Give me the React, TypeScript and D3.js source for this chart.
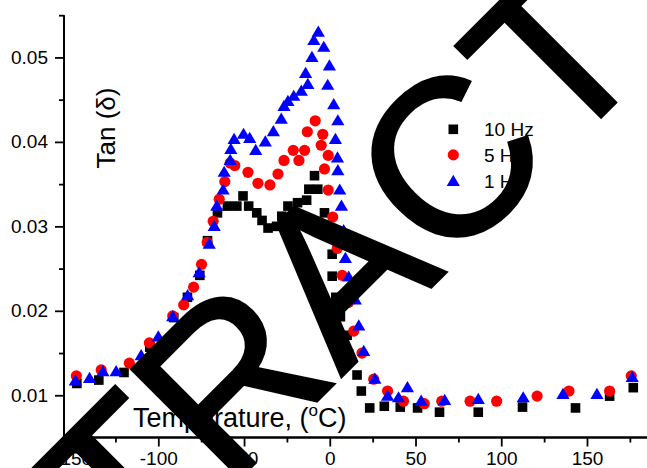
import React, { useEffect, useRef } from 'react';
import * as d3 from 'd3';

// temperature (°C) and tan(delta)
const temp10 = [-147.5, -134.7, -120, -105, -91, -83, -75.8, -71.3, -65.5, -59.7, -54.2, -50.6, -47.3, -42.6, -39.5, -36, -31, -28, -24.4, -18.8, -13.5, -12.2, -7, -8.9, -3.1, 1.4, 1.4, 3.5, 6.2, 10.1, 11, 15.9, 18.4, 23.3, 31.8, 41.1, 51.2, 64, 86.6, 112.4, 143.3, 163.2, 177];
const tan10 = [0.0114, 0.0118, 0.0127, 0.0157, 0.0192, 0.0216, 0.0242, 0.0283, 0.0316, 0.0324, 0.0324, 0.0336, 0.0324, 0.0316, 0.0307, 0.0298, 0.03, 0.0312, 0.0324, 0.0328, 0.0331, 0.0344, 0.0344, 0.036, 0.0316, 0.0267, 0.0241, 0.0216, 0.0193, 0.0171, 0.0149, 0.0124, 0.0105, 0.0085, 0.0087, 0.0086, 0.0085, 0.008, 0.008, 0.0086, 0.0085, 0.0099, 0.0109];

const temp5 = [-147.8, -133.3, -116.9, -105.2, -91.6, -85.2, -79.4, -74.8, -71.5, -68, -64.5, -61.2, -58.1, -55.4, -47.7, -41.9, -34.9, -30.2, -26.7, -21.3, -18, -14.7, -13.1, -8.5, -5, -4.1, -3.1, -0.9, -0.9, 1.7, 4.4, 7.2, 11, 14, 18.8, 25.6, 33.7, 43, 55.1, 65.3, 81.8, 97.3, 120.9, 139.5, 163.2, 175.8];
const tan5 = [0.0123, 0.013, 0.0138, 0.0162, 0.0194, 0.0207, 0.0228, 0.0255, 0.0281, 0.0306, 0.0332, 0.0353, 0.0375, 0.0372, 0.0364, 0.0351, 0.0349, 0.0362, 0.0378, 0.039, 0.0378, 0.039, 0.0412, 0.0425, 0.0396, 0.0409, 0.0368, 0.0384, 0.0343, 0.0311, 0.0274, 0.0242, 0.021, 0.0176, 0.015, 0.0119, 0.0105, 0.0093, 0.009, 0.0093, 0.0093, 0.0093, 0.0099, 0.0105, 0.0105, 0.0123];

const temp1 = [-148.4, -140.1, -132.3, -124.6, -110, -100, -91.6, -82.9, -76.2, -70.3, -67.4, -65.9, -62.2, -61.6, -58.1, -57.7, -55.8, -50.3, -46.7, -43.2, -37.6, -32.9, -28.3, -26.7, -24.4, -21, -16.6, -12.8, -14.1, -10.4, -9.3, -6.7, -3.5, -0.2, -1.2, 2.3, 4.7, 3.3, 4.5, 4.7, 5.8, 6.8, 8.1, 9.1, 11, 14.9, 16.9, 19.8, 26.3, 33.7, 40.1, 45.3, 53.3, 67, 86.6, 112.8, 136, 155.8, 176.4];
const tan1 = [0.0118, 0.0121, 0.0129, 0.0129, 0.0148, 0.017, 0.0194, 0.0219, 0.0246, 0.028, 0.0301, 0.0325, 0.0344, 0.0365, 0.0379, 0.0392, 0.0404, 0.041, 0.0405, 0.0391, 0.0401, 0.0413, 0.0428, 0.0443, 0.0449, 0.0455, 0.0461, 0.0469, 0.0482, 0.0501, 0.0521, 0.0531, 0.0513, 0.0491, 0.0468, 0.0445, 0.0426, 0.0404, 0.0382, 0.0367, 0.0344, 0.0325, 0.0296, 0.0263, 0.0241, 0.0214, 0.0183, 0.0153, 0.012, 0.01, 0.0098, 0.011, 0.0094, 0.0095, 0.0096, 0.0098, 0.0102, 0.0102, 0.0122];

const xMajor = [-150, -100, -50, 0, 50, 100, 150];
const xMinor = [-125, -75, -25, 25, 75, 125, 175];
const yMajor = [0.01, 0.02, 0.03, 0.04, 0.05];
const yMinor = [0.015, 0.025, 0.035, 0.045, 0.055];

const seriesNames = ['10 Hz', '5 Hz', '1 Hz'];

const W = 647;
const H = 468;
const FONT = 'Liberation Sans, Arial, Helvetica, sans-serif';

const x = d3.scaleLinear().domain([-155, 185]).range([64, 647]);
const y = d3.scaleLinear().domain([0.005, 0.055]).range([437.5, 15.2]);

const drawMarker = (g: any, kind: string, cx: number, cy: number) => {
  if (kind === 'square') {
    g.append('rect').attr('x', cx - 4.8).attr('y', cy - 4.8).attr('width', 9.6).attr('height', 9.6).attr('fill', '#000');
  } else if (kind === 'circle') {
    g.append('circle').attr('cx', cx).attr('cy', cy).attr('r', 5.6).attr('fill', '#ff0000');
  } else {
    g.append('path')
      .attr('d', `M${cx},${cy - 5.8}L${cx + 6.6},${cy + 5.4}L${cx - 6.6},${cy + 5.4}Z`)
      .attr('fill', '#0000ff');
  }
};

const chart = (svg: d3.Selection<SVGSVGElement, any, any, any>) => {
  svg.selectAll('*').remove();
  svg.append('rect').attr('width', W).attr('height', H).attr('fill', '#fff');

  // x axis
  const gx = svg.append('g').attr('transform', `translate(0,${y(0.005)})`);
  gx.call(d3.axisBottom(x).tickValues(xMajor).tickSize(9).tickPadding(5).tickFormat((d: any) => String(d)));
  gx.append('g').call(d3.axisBottom(x).tickValues(xMinor).tickSize(5).tickFormat(() => ''));
  gx.selectAll('.domain').attr('d', `M${x(-155)},0H${x(185)}`);

  // y axis
  const gy = svg.append('g').attr('transform', `translate(${x(-155)},0)`);
  gy.call(d3.axisLeft(y).tickValues(yMajor).tickSize(9).tickPadding(7).tickFormat(d3.format('.2f')));
  gy.append('g').call(d3.axisLeft(y).tickValues(yMinor).tickSize(5).tickFormat(() => ''));
  gy.selectAll('.domain').attr('d', `M0,${y(0.005)}V${y(0.055)}`);

  svg.selectAll('.domain').attr('stroke', '#000').attr('stroke-width', 1.8);
  svg.selectAll('.tick line').attr('stroke', '#000').attr('stroke-width', 1.8);
  svg.selectAll('.tick text').attr('font-family', FONT).attr('font-size', 19).attr('fill', '#000');

  // axis titles
  const xt = svg.append('text').attr('x', 133).attr('y', 427).attr('font-family', FONT).attr('font-size', 27);
  xt.append('tspan').text('Temperature, (');
  xt.append('tspan').attr('font-size', 17).attr('dy', -11).text('o');
  xt.append('tspan').attr('dy', 11).text('C)');

  svg.append('text')
    .attr('transform', 'translate(115,128) rotate(-90)')
    .attr('text-anchor', 'middle')
    .attr('font-family', FONT)
    .attr('font-size', 26)
    .text('Tan (δ)');

  // data
  const pts = svg.append('g');
  temp10.forEach((t, i) => drawMarker(pts, 'square', x(t), y(tan10[i])));
  temp5.forEach((t, i) => drawMarker(pts, 'circle', x(t), y(tan5[i])));
  temp1.forEach((t, i) => drawMarker(pts, 'triangle', x(t), y(tan1[i])));

  // legend
  const kinds = ['square', 'circle', 'triangle'];
  const lg = svg.append('g');
  seriesNames.forEach((name, i) => {
    const ly = 129.3 + i * 25.6;
    drawMarker(lg, kinds[i], 453.3, ly);
    lg.append('text').attr('x', 484).attr('y', ly + 7).attr('font-family', FONT).attr('font-size', 19).text(name);
  });

  // watermark
  svg.append('text')
    .attr('transform', 'translate(656.5,61.6) rotate(-45)')
    .attr('text-anchor', 'end')
    .attr('font-family', FONT)
    .attr('font-size', 223)
    .attr('fill', '#000')
    .attr('stroke', '#000')
    .attr('stroke-width', 3)
    .text('ABSTRACT');
};

export default function App() {
  const svgRef = useRef<SVGSVGElement>(null);

  useEffect(() => {
    if (svgRef.current === null) {
      return;
    }
    chart(d3.select(svgRef.current));
  }, []);

  return (
    <svg
      ref={svgRef}
      width={W}
      height={H}
      style={{ position: 'absolute', left: 0, top: 0, display: 'block' }}
    />
  );
}
